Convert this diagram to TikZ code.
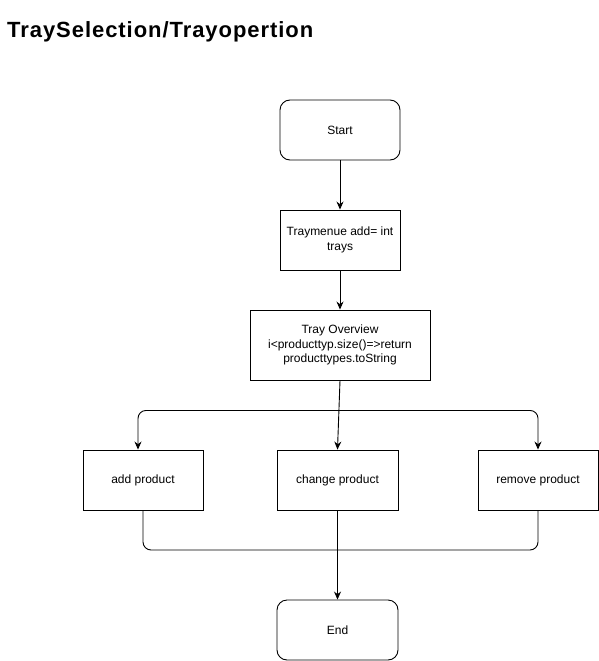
\documentclass[tikz,border=0pt]{standalone}
\usepackage{fontspec}
\setmainfont{Liberation Sans}
\newfontfamily\titlefont[LetterSpace=4.3]{Liberation Sans}
\usetikzlibrary{arrows.meta,calc}
\begin{document}
\begin{tikzpicture}[x=1pt,y=-1pt,
 box/.style={draw=black,line width=0.9pt,minimum width=120pt,minimum height=60pt,align=center,font=\fontsize{12}{14.5}\selectfont,inner sep=2pt},
 rbox/.style={box,rounded corners=10pt},
 conn/.style={draw=black,line width=0.9pt,-{Stealth[length=8pt,width=7pt]}},
 wire/.style={draw=black,line width=0.9pt,rounded corners=8pt}]
\useasboundingbox (0,0) rectangle (599,661);
\node[anchor=base west,inner sep=0pt,font=\titlefont\fontsize{22}{26}\selectfont\bfseries] (title) at (7,37.5) {TraySelection/Trayopertion};
\node[rbox] (start) at (340,130) {Start};
\node[box] (menu) at (340,240) {Traymenue add= int\\trays};
\node[box,minimum width=180pt,minimum height=70pt] (over) at (340,345) {Tray Overview\\i<producttyp.size()=>return\\producttypes.toString};
\node[box] (add) at (143,480) {add product};
\node[box,minimum width=121pt] (change) at (337.5,480) {change product};
\node[box] (remove) at (538,480) {remove product};
\node[rbox,minimum width=121pt] (end) at (337.5,630) {End};
\coordinate (split) at ($(over.south)+(0,30)$);
\coordinate (join) at (337.5,550);
\draw[conn] (start) -- (menu);
\draw[conn] (menu) -- (over);
\draw[conn] (over.south) -- (change.north);
\draw[wire,conn] (split) -| ([xshift=-5pt]add.north);
\draw[wire,conn] (split) -| (remove.north);
\draw[wire] (add.south) |- (join) -| (remove.south);
\draw[conn] (change.south) -- (end.north);
\end{tikzpicture}
\end{document}
